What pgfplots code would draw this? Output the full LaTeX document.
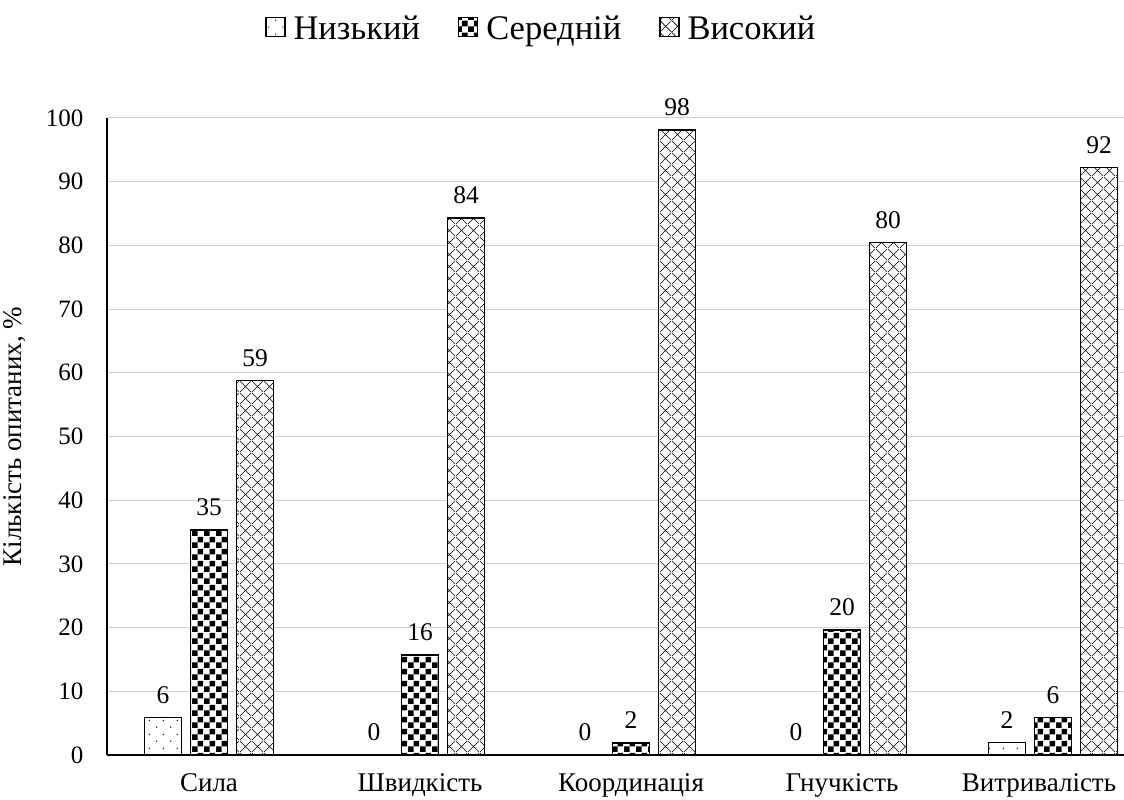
\documentclass[border=0pt]{standalone}
\usepackage{pgfplots}
\pgfplotsset{compat=1.18}
\usepackage{fontspec}
\setmainfont{Liberation Serif}
\usetikzlibrary{patterns.meta}

\tikzdeclarepattern{
  name=sparsedots, type=uncolored,
  bounding box={(0pt,0pt) and (14pt,14pt)},
  tile size={(14pt,14pt)},
  code={\fill (3pt,3pt) circle (0.75pt); \fill (10pt,10pt) circle (0.75pt);}
}
\tikzdeclarepattern{
  name=checker, type=uncolored,
  bounding box={(0pt,0pt) and (12pt,12pt)},
  tile size={(12pt,12pt)},
  code={\fill (0pt,0pt) rectangle (6pt,6pt); \fill (6pt,6pt) rectangle (12pt,12pt);}
}
\tikzdeclarepattern{
  name=diamonds, type=uncolored,
  bounding box={(0pt,0pt) and (12pt,12pt)},
  tile size={(12pt,12pt)},
  code={\draw[line width=0.6pt] (0pt,0pt)--(12pt,12pt) (0pt,12pt)--(12pt,0pt);}
}

\begin{document}
\begin{tikzpicture}
\useasboundingbox (-107pt,-45pt) rectangle (1017pt,755pt);
\begin{axis}[
  at={(0pt,0pt)}, anchor=south west,
  width=1017pt, height=637pt, scale only axis,
  ybar,
  xmin=-0.4835, xmax=4.3365,
  ymin=0, ymax=100,
  ytick={0,10,...,100},
  xtick={0,1,2,3,4},
  xticklabels={Сила, Швидкість, Координація, Гнучкість, {\hspace*{-28pt}Витривалість}},
  axis x line*=bottom, axis y line*=left,
  axis line style={black, line width=1.2pt},
  ymajorgrids, grid style={black!18, line width=1pt},
  major tick length=0pt,
  clip=false,
  /pgf/number format/assume math mode=true,
  yticklabel style={xshift=-20pt, font=\fontsize{25}{28}\selectfont},
  xticklabel style={yshift=-15pt, font=\fontsize{27}{30}\selectfont},
  ylabel={Кількість опитаних, \%},
  ylabel style={at={(axis description cs:-0.0905,0.5)}, anchor=center, font=\fontsize{27}{30}\selectfont},
  bar width=0.175,
  nodes near coords,
  nodes near coords style={font=\fontsize{25.5}{28}\selectfont, yshift=10pt, /pgf/number format/.cd, fixed, precision=0},
  every axis plot/.append style={draw=black, line width=1.3pt},
  legend columns=3,
  legend style={draw=none, at={(0.427,1.141)}, anchor=center, font=\fontsize{34.5}{38}\selectfont,
    /tikz/every odd column/.append style={column sep=6pt},
    /tikz/every even column/.append style={column sep=36pt}},
  legend image code/.code={\draw[#1, line width=1.3pt] (0pt,-8pt) rectangle (19pt,11pt);},
]
\addplot[fill=white, postaction={pattern=sparsedots}, bar shift=-0.218] coordinates {(0,5.9) (1,0) (2,0) (3,0) (4,2.0)};
\addplot[fill=white, postaction={pattern=checker}, bar shift=0] coordinates {(0,35.3) (1,15.7) (2,1.9) (3,19.6) (4,5.9)};
\addplot[fill=white, postaction={pattern=diamonds}, bar shift=0.218] coordinates {(0,58.8) (1,84.3) (2,98.1) (3,80.4) (4,92.2)};
\legend{Низький, Середній, Високий}
\end{axis}
\end{tikzpicture}
\end{document}
